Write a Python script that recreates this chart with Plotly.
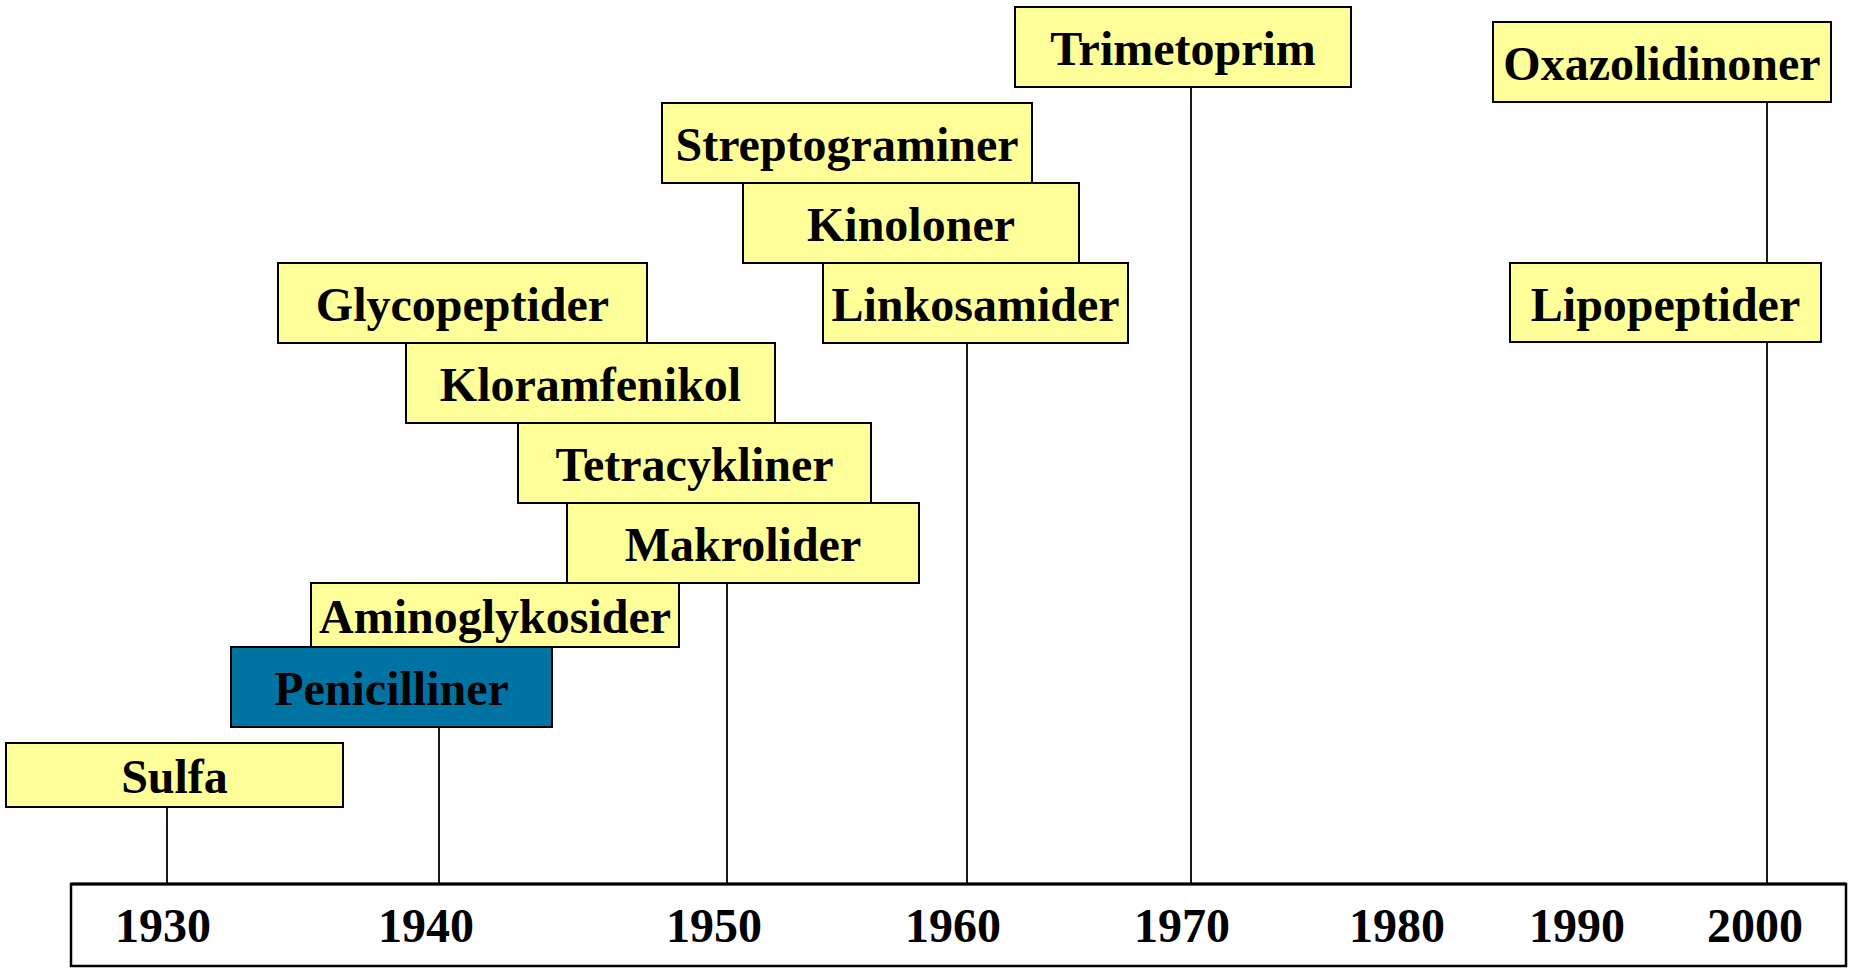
import plotly.graph_objects as go

# ---- data ----
classes = ["Sulfa", "Penicilliner", "Aminoglykosider", "Makrolider", "Tetracykliner",
           "Kloramfenikol", "Glycopeptider", "Linkosamider", "Kinoloner",
           "Streptograminer", "Trimetoprim", "Lipopeptider", "Oxazolidinoner"]
decade_labels = ["1930", "1940", "1950", "1960", "1970", "1980", "1990", "2000"]
# which class is tied to which decade marker line
marker_class = ["Sulfa", "Penicilliner", "Makrolider", "Linkosamider", "Trimetoprim", "Oxazolidinoner"]
marker_decade = ["1930", "1940", "1950", "1960", "1970", "2000"]

# ---- layout (timeline position units) ----
decade_pos = [163, 426, 714, 953, 1182, 1397, 1577, 1755]
marker_pos = [167, 439, 727, 967, 1191, 1767]
box_left = [6, 231, 311, 567, 518, 406, 278, 823, 743, 662, 1015, 1510, 1493]
box_right = [343, 552, 679, 919, 871, 775, 647, 1128, 1079, 1032, 1351, 1821, 1831]
box_top = [743, 647, 583, 503, 423, 343, 263, 263, 183, 103, 7, 263, 22]
box_bottom = [807, 727, 647, 583, 503, 423, 343, 343, 263, 183, 87, 342, 102]
axis_box = dict(left=71, right=1846, top=884, bottom=966)
text_shift = 6  # label baseline nudge inside boxes

YELLOW = "#FFFF99"
BLUE = "#0073A3"
FONT = dict(family="Liberation Serif, Times New Roman, serif", size=48, color="black", weight="bold")

fig = go.Figure()
shapes = []

# marker lines (drawn first, behind boxes)
for cls, xp in zip(marker_class, marker_pos):
    i = classes.index(cls)
    shapes.append(dict(type="line", xref="x", yref="y", x0=xp, x1=xp,
                       y0=box_bottom[i], y1=axis_box["top"],
                       line=dict(color="black", width=1.8), layer="below"))

# boxes
for i, cls in enumerate(classes):
    fill = BLUE if cls == "Penicilliner" else YELLOW
    shapes.append(dict(type="rect", xref="x", yref="y",
                       x0=box_left[i], x1=box_right[i], y0=box_top[i], y1=box_bottom[i],
                       fillcolor=fill, line=dict(color="black", width=2), layer="below"))

# timeline box
shapes.append(dict(type="rect", xref="x", yref="y",
                   x0=axis_box["left"], x1=axis_box["right"],
                   y0=axis_box["top"], y1=axis_box["bottom"],
                   fillcolor="white", line=dict(color="black", width=2.5), layer="below"))
shapes.append(dict(type="line", xref="x", yref="y",
                   x0=axis_box["left"], x1=axis_box["right"],
                   y0=axis_box["top"], y1=axis_box["top"],
                   line=dict(color="black", width=3), layer="below"))

# labels in boxes
fig.add_trace(go.Scatter(
    x=[(l + r) / 2 for l, r in zip(box_left, box_right)],
    y=[(t + b) / 2 + text_shift for t, b in zip(box_top, box_bottom)],
    text=classes, mode="text", textposition="middle center",
    textfont=FONT, hoverinfo="skip", showlegend=False))

fig.update_layout(
    width=1856, height=969,
    margin=dict(l=0, r=0, t=0, b=0),
    paper_bgcolor="white", plot_bgcolor="white",
    shapes=shapes, showlegend=False,
    xaxis=dict(range=[0, 1856], showgrid=False, zeroline=False, showline=False,
               tickmode="array", tickvals=decade_pos, ticktext=decade_labels,
               ticks="", ticklabelposition="inside", ticklabelstandoff=14,
               tickfont=FONT, fixedrange=True),
    yaxis=dict(range=[969, 0], showgrid=False, zeroline=False, showline=False,
               showticklabels=False, fixedrange=True),
)

fig.write_html("out.html", config={"displayModeBar": False},
               post_script="document.body.style.margin='0';document.body.style.overflow='hidden';")
